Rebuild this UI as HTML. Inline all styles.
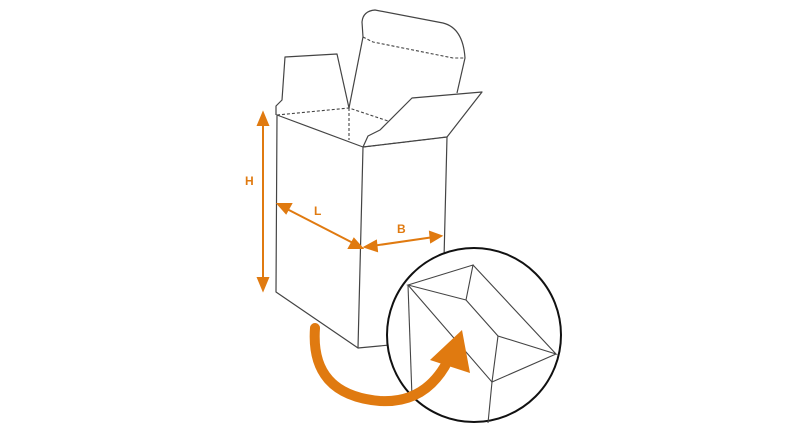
<!DOCTYPE html>
<html><head><style>body{margin:0;background:#fff}svg{display:block}</style></head><body>
<svg width="800" height="431" viewBox="0 0 800 431" xmlns="http://www.w3.org/2000/svg" font-family="Liberation Sans, sans-serif">
<g fill="none" stroke="#444" stroke-width="1.2" stroke-linejoin="round">
<!-- box -->
<path d="M277,115 L276,292 L358,348 L363,147 Z"/>
<path d="M363,147 L447,137 L442,340 L358,348"/>
<!-- left flap -->
<path d="M276,115 L276,106 L282,100 L285,57 L337,54 L349,108"/>
<!-- back tall flap -->
<path d="M349,108 L363,37 L362,22 Q363,11 375,10 L443,23 Q463,28 465,58 L457,93"/>
<!-- right flap -->
<path d="M363,147 L368,136 L380,130 L412,98 L482,92 L447,137"/>
</g>
<g fill="none" stroke="#444" stroke-width="1.1" stroke-dasharray="3,2">
<path d="M277,115 L349,108 L388,121"/>
<path d="M349,108 L349,140"/>
<path d="M363,147 L447,137"/>
<path d="M363,37 L373,42 L453,58 L465,58"/>
</g>
<!-- dimensions -->
<g stroke="#e07a10" stroke-width="2" fill="#e07a10">
<line x1="263" y1="122" x2="263" y2="282"/>
<polygon points="263,113 258,125 268,125"/>
<polygon points="263,290 258,278 268,278"/>
<line x1="285" y1="208" x2="355" y2="244"/>
<polygon points="278,204 291,204 286,213"/>
<polygon points="362,248 349,248 354,239"/>
<line x1="372" y1="246" x2="434" y2="237"/>
<polygon points="365,247 376,241 377,251"/>
<polygon points="441,236 430,232 431,242"/>
</g>
<g fill="#e07a10" font-weight="bold" font-size="12">
<text x="245" y="185">H</text>
<text x="314" y="215">L</text>
<text x="397" y="233">B</text>
</g>
<!-- circle -->
<circle cx="474" cy="335" r="87" fill="#fff" stroke="#111" stroke-width="2"/>
<g fill="none" stroke="#444" stroke-width="1.1">
<path d="M408,285 L473,265 L466,300 Z"/>
<path d="M473,265 L556,354 L498,336 L466,300"/>
<path d="M498,336 L492,382 L556,354"/>
<path d="M408,285 L492,382 L488,423"/>
<path d="M408,285 L412,397"/>
</g>
<!-- orange curved arrow -->
<path d="M315,328 Q310,395 380,401 Q430,404 452,352" fill="none" stroke="#e07a10" stroke-width="10" stroke-linecap="round"/>
<polygon points="462,330 430,360 470,373" fill="#e07a10"/>
</svg>
</body></html>
